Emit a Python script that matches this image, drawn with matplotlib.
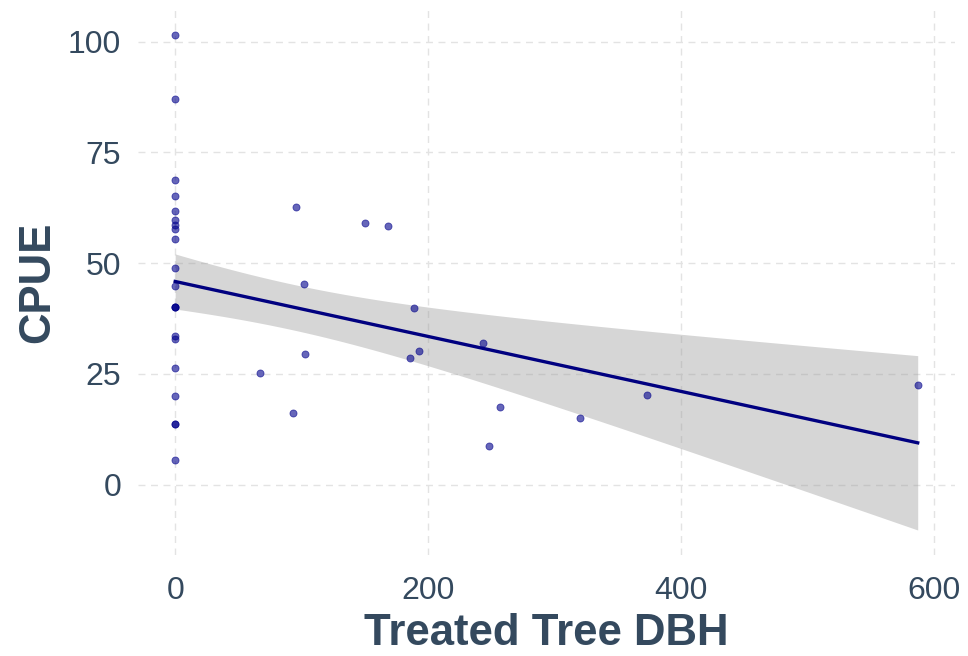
import numpy as np
import matplotlib
matplotlib.use("Agg")
import matplotlib.pyplot as plt

# Treated tree DBH vs CPUE
dbh = [0, 0, 0, 0, 0, 0, 0, 0, 0, 0, 0, 0, 0, 0, 0, 0, 0, 0, 0, 0, 0,
       95.7, 150.2, 168.6, 102.0, 188.9, 243.7, 103.0, 193.1, 185.8, 67.4,
       256.7, 93.3, 248.0, 319.9, 373.4, 587.1]
cpue = [101.6, 87.1, 68.7, 65.1, 61.8, 59.7, 58.7, 57.7, 55.4, 48.9, 44.9,
        40.2, 40.2, 40.2, 33.5, 33.0, 26.4, 20.0, 13.8, 13.8, 5.6,
        62.7, 59.0, 58.4, 45.4, 40.0, 32.1, 29.6, 30.2, 28.6, 25.3,
        17.6, 16.1, 8.8, 15.1, 20.3, 22.5]
x_ticks = [0, 200, 400, 600]
y_ticks = [0, 25, 50, 75, 100]

text_col = "#34495E"
plt.rcParams['font.family'] = ['Liberation Sans', 'DejaVu Sans']

x = np.array(dbh)
y = np.array(cpue)
n = len(x)

# linear fit + confidence band (like geom_smooth(method = "lm"))
slope, icpt = np.polyfit(x, y, 1)
resid = y - (icpt + slope * x)
s = np.sqrt(np.sum(resid ** 2) / (n - 2))
sxx = np.sum((x - x.mean()) ** 2)
t_crit = 1.5  # band width tuned to the reference
xs = np.linspace(x.min(), x.max(), 80)
fit = icpt + slope * xs
se = s * np.sqrt(1.0 / n + (xs - x.mean()) ** 2 / sxx)

fig = plt.figure(figsize=(9.68, 6.56), dpi=100)
ax = fig.add_axes([0.1426, 0.1543, 0.8438, 0.8308])

ax.scatter(x, y, s=26, color="#00008B", alpha=0.6, linewidths=0.6, zorder=3)
ax.fill_between(xs, fit - t_crit * se, fit + t_crit * se, color="#999999", alpha=0.4,
                linewidth=0, zorder=2)
ax.plot(xs, fit, color="#000080", lw=2.4, zorder=4)

ax.set_xticks(x_ticks)
ax.set_yticks(y_ticks)
ax.margins(0.05)
ax.grid(True, color="#E3E3E3", linestyle=(0, (5, 4)), linewidth=1.0, zorder=0)
ax.set_axisbelow(True)
for sp in ax.spines.values():
    sp.set_visible(False)
ax.tick_params(length=0, labelsize=23, labelcolor=text_col)
ax.tick_params(axis='x', pad=15)
ax.tick_params(axis='y', pad=12)

ax.set_xlabel("Treated Tree DBH", fontsize=31.5, fontweight='bold', color=text_col, labelpad=5)
ax.set_ylabel("CPUE", fontsize=31.5, fontweight='bold', color=text_col, labelpad=7)

fig.savefig("out.png", dpi=100)
